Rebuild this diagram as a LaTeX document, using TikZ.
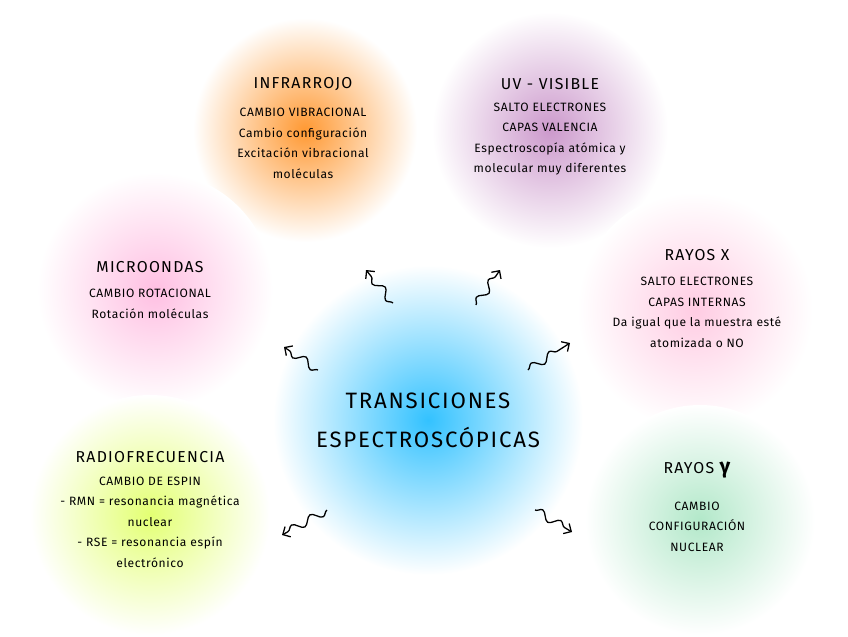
\documentclass[tikz,border=0pt]{standalone}
\usepackage{fontspec}
\setmainfont{Fira Sans}
\usetikzlibrary{decorations.pathmorphing,arrows.meta,positioning}
\begin{document}
\begin{tikzpicture}[x=0.03cm,y=-0.03cm,
  ttl/.style={font=\fontsize{13.5}{15}\selectfont\addfontfeature{LetterSpace=8},align=center},
  txt/.style={font=\fontsize{10.3}{17.5}\selectfont\addfontfeature{LetterSpace=5},align=center},
  sq/.style={line width=1.1pt,-{Straight Barb[length=5pt]},decorate,decoration={snake,amplitude=3.5pt,segment length=18pt,post length=5pt}}]
\useasboundingbox[fill=white] (0,0) rectangle (848,636);
\shade[inner color=orange!80,outer color=white] (305,130) circle[radius=112];
\shade[inner color=violet!40,outer color=white] (550,130) circle[radius=118];
\shade[inner color=red!45!magenta!25,outer color=white] (155,290) circle[radius=118];
\shade[inner color=red!55!magenta!20,outer color=white] (695,310) circle[radius=118];
\shade[inner color=yellow!80!green!55,outer color=white] (150,515) circle[radius=120];
\shade[inner color=green!40!teal!30,outer color=white] (700,520) circle[radius=115];
\shade[inner color=cyan!70!blue!80,outer color=white] (428,420) circle[radius=155];
\node[align=center,font=\fontsize{19}{33}\selectfont\addfontfeature{LetterSpace=8}] (ct) at (428,420) {TRANSICIONES\\ESPECTROSCÓPICAS};
\node[ttl] (ir) at (303,84) {INFRARROJO};
\node[txt,below=8pt of ir] (irt) {CAMBIO VIBRACIONAL\\Cambio configuración\\Excitación vibracional\\moléculas};
\node[ttl] (uv) at (550,84) {UV - VISIBLE};
\node[txt,below=4pt of uv] (uvt) {SALTO ELECTRONES\\CAPAS VALENCIA\\Espectroscopía atómica y\\molecular muy diferentes};
\node[ttl] (mw) at (150,267) {MICROONDAS};
\node[txt,below=7pt of mw] (mwt) {CAMBIO ROTACIONAL\\Rotación moléculas};
\node[ttl] (rx) at (697,255) {RAYOS X};
\node[txt,below=7pt of rx] (rxt) {SALTO ELECTRONES\\CAPAS INTERNAS\\Da igual que la muestra esté\\atomizada o NO};
\node[ttl] (rf) at (150,457) {RADIOFRECUENCIA};
\node[txt,below=5pt of rf] (rft) {CAMBIO DE ESPIN\\- RMN = resonancia magnética\\nuclear\\- RSE = resonancia espín\\electrónico};
\node[ttl] (rg) at (697,470) {RAYOS {\fontsize{18}{15}\selectfont\bfseries γ}};
\node[txt,below=13pt of rg] (rgt) {CAMBIO\\CONFIGURACIÓN\\NUCLEAR};
\coordinate (a1) at (393,303); \coordinate (b1) at (366,270);
\coordinate (a2) at (476,305); \coordinate (b2) at (500,270);
\coordinate (a3) at (318,370); \coordinate (b3) at (284,347);
\coordinate (a4) at (528,370); \coordinate (b4) at (570,343);
\coordinate (a5) at (327,510); \coordinate (b5) at (282,535);
\coordinate (a6) at (535,510); \coordinate (b6) at (572,532);
\foreach \i in {1,...,6} \draw[sq] (a\i) -- (b\i);
\end{tikzpicture}
\end{document}
